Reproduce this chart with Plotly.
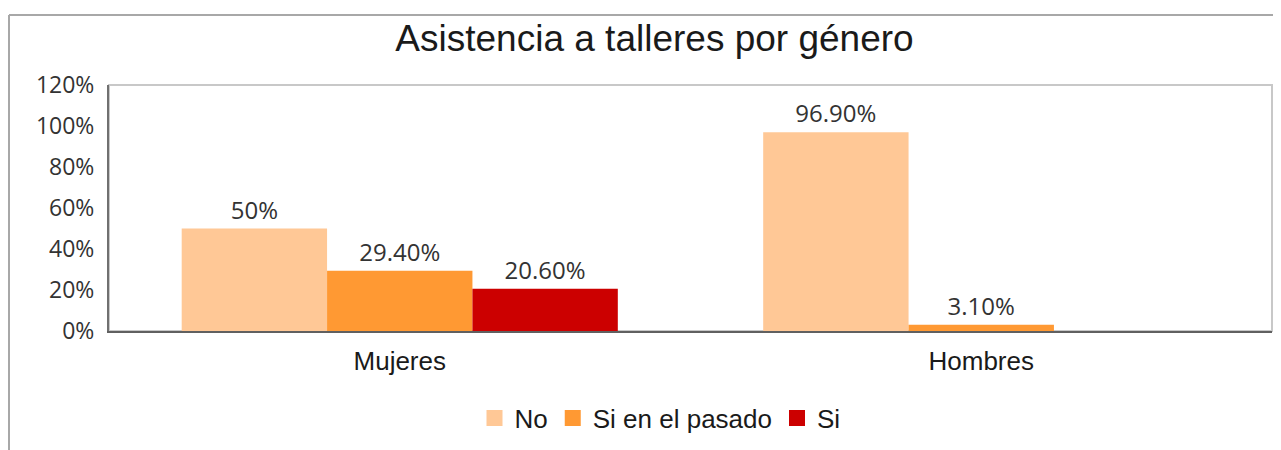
import plotly.graph_objects as go

categories = ["Mujeres", "Hombres"]
series_names = ["No", "Si en el pasado", "Si"]
values_no = [0.50, 0.969]
values_pasado = [0.294, 0.031]
values_si = [0.206, None]
labels_no = ["50%", "96.90%"]
labels_pasado = ["29.40%", "3.10%"]
labels_si = ["20.60%", ""]
colors = ["#FFC896", "#FF9933", "#CC0000"]
y_tickvals = [0, 0.2, 0.4, 0.6, 0.8, 1.0, 1.2]
y_ticktext = ["0%", "20%", "40%", "60%", "80%", "100%", "120%"]

fig = go.Figure()
for name, vals, labs, col in zip(series_names,
                                 [values_no, values_pasado, values_si],
                                 [labels_no, labels_pasado, labels_si],
                                 colors):
    fig.add_trace(go.Bar(
        x=categories, y=vals, name=name, marker_color=col,
        marker_line_width=0, showlegend=False, legendgroup=name,
        text=labs, textposition="outside", cliponaxis=False,
        textfont=dict(family="Open Sans", size=24, color="#333333"),
    ))
# legend entries with larger square swatches
for name, col in zip(series_names, colors):
    fig.add_trace(go.Scatter(
        x=[None], y=[None], mode="markers", name=name, legendgroup=name,
        marker=dict(symbol="square", size=17, color=col),
    ))

OFF = 8  # page body offset
W, H = 1281 - OFF, 450 - OFF
L, R, T = 109 - OFF, 9, 85 - OFF
B = H - (331 - OFF)
pw = W - L - R
ph = H - T - B

def px(x):
    return (x - OFF - L) / pw

def py(y):
    return 1 - (y - OFF - T) / ph

fig.update_layout(
    width=W, height=H,
    margin=dict(l=L, r=R, t=T, b=B),
    paper_bgcolor="white", plot_bgcolor="white",
    barmode="group", bargap=0.25, bargroupgap=0,
    title=dict(text="Asistencia a talleres por género",
               x=(654.5 - OFF) / W, xanchor="center", xref="container",
               y=1 - (38 - OFF) / H, yanchor="middle",
               font=dict(family="Liberation Sans", size=37, color="#1a1a1a")),
    legend=dict(orientation="h", x=px(660), xanchor="center",
                y=py(418), yanchor="middle",
                font=dict(family="Liberation Sans", size=26, color="#1a1a1a"),
                itemwidth=30, traceorder="normal", itemsizing="trace"),
    showlegend=True,
)
fig.update_yaxes(range=[0, 1.2], tickvals=y_tickvals, ticktext=y_ticktext,
                 showgrid=False, zeroline=False, showline=True,
                 linecolor="#707070", linewidth=2, ticks="",
                 ticklabelstandoff=8,
                 tickfont=dict(family="Open Sans", size=23, color="#333333"))
fig.update_xaxes(showgrid=False, showline=True, linecolor="#606060", linewidth=2,
                 ticks="", ticklabelstandoff=6,
                 tickfont=dict(family="Liberation Sans", size=26, color="#1a1a1a"))

# plot-area frame (light) and outer chart border (left/top)
fig.add_shape(type="rect", xref="paper", yref="paper", x0=0, x1=1, y0=0, y1=1,
              line=dict(color="#c8c8c8", width=2), layer="below")
fig.add_shape(type="line", xref="paper", yref="paper",
              x0=px(9), x1=px(9), y0=py(15), y1=py(460),
              line=dict(color="#a8a8a8", width=2))
fig.add_shape(type="line", xref="paper", yref="paper",
              x0=px(9), x1=px(1290), y0=py(15), y1=py(15),
              line=dict(color="#a8a8a8", width=2))

fig.write_html("out.html")
